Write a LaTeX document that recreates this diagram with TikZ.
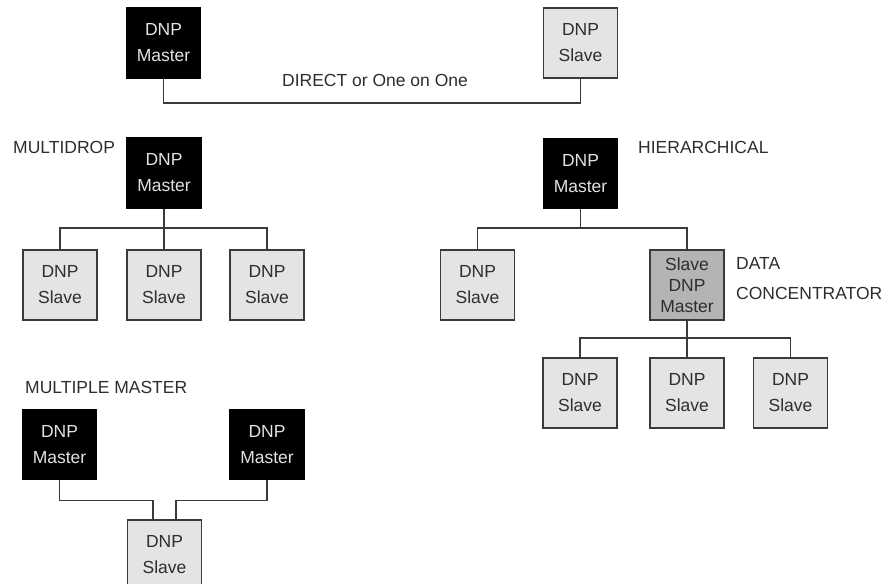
\documentclass[tikz,border=0pt]{standalone}
\usepackage{fontspec}
\setmainfont{Liberation Sans}
\definecolor{linegray}{HTML}{3A3A3A}
\definecolor{slavefill}{HTML}{E4E4E4}
\definecolor{dcfill}{HTML}{B4B4B4}
\definecolor{mastertext}{HTML}{E2E2E2}
\definecolor{labeltext}{HTML}{2E2E2E}
\begin{document}
\begin{tikzpicture}[x=1pt,y=-1pt,
  box/.style={draw, line width=1.6pt, minimum width=74pt, minimum height=70pt,
    inner sep=0pt, align=center, font=\fontsize{17.5}{26}\selectfont},
  masterbox/.style={box, draw=black, fill=black, text=mastertext},
  slavebox/.style={box, draw=linegray, fill=slavefill, text=labeltext},
  dcbox/.style={box, draw=linegray, fill=dcfill, text=labeltext,
    font=\fontsize{17.5}{21}\selectfont},
  lbl/.style={inner sep=0pt, text=labeltext, font=\fontsize{17.5}{21}\selectfont},
  wire/.style={draw=linegray, line width=1.4pt}]
\useasboundingbox (0,0) rectangle (887,584);
\fill[white] (0,0) rectangle (887,584);

% DIRECT
\node[masterbox] (dm) at (163.5,43) {DNP\\Master};
\node[slavebox] (ds) at (580.5,43) {DNP\\Slave};
\node[lbl] (dlbl) at (375,80) {DIRECT or One on One};
\draw[wire] (dm.south) -- ++(0,24) -| (ds.south);

% MULTIDROP
\node[lbl, anchor=west] (mlbl) at (13,147) {MULTIDROP};
\node[masterbox] (mm) at (164,173) {DNP\\Master};
\node[slavebox] (ms1) at (60,285) {DNP\\Slave};
\node[slavebox] (ms2) at (164,285) {DNP\\Slave};
\node[slavebox] (ms3) at (267,285) {DNP\\Slave};
\coordinate (mb) at (164,228);
\draw[wire] (mm.south) -- (ms2.north);
\draw[wire] (ms1.north) |- (mb) -| (ms3.north);

% HIERARCHICAL
\node[lbl, anchor=west] (hlbl) at (638,147) {HIERARCHICAL};
\node[masterbox] (hm) at (580.5,173.5) {DNP\\Master};
\node[slavebox] (hs) at (477.5,285) {DNP\\Slave};
\node[dcbox] (dc) at (687,285) {Slave\\DNP\\Master};
\node[lbl, anchor=west] (dclbl1) at (736,263) {DATA};
\node[lbl, anchor=west] (dclbl2) at (736,293) {CONCENTRATOR};
\coordinate (hb) at (580.5,228);
\draw[wire] (hm.south) -- (hb);
\draw[wire] (hs.north) |- (hb) -| (dc.north);
\node[slavebox] (hs1) at (580,393) {DNP\\Slave};
\node[slavebox] (hs2) at (687,393) {DNP\\Slave};
\node[slavebox] (hs3) at (790.5,393) {DNP\\Slave};
\coordinate (hb2) at (687,338);
\draw[wire] (dc.south) -- (hs2.north);
\draw[wire] (hs1.north) |- (hb2) -| (hs3.north);

% MULTIPLE MASTER
\node[lbl, anchor=west] (mplbl) at (25,387) {MULTIPLE MASTER};
\node[masterbox] (mp1) at (59.5,444.5) {DNP\\Master};
\node[masterbox] (mp2) at (267,444.5) {DNP\\Master};
\node[slavebox] (mps) at (164.5,555) {DNP\\Slave};
\draw[wire] (mp1.south) -- ++(0,20) -| ([xshift=-11.5pt]mps.north);
\draw[wire] (mp2.south) -- ++(0,20) -| ([xshift=11.5pt]mps.north);
\end{tikzpicture}
\end{document}
